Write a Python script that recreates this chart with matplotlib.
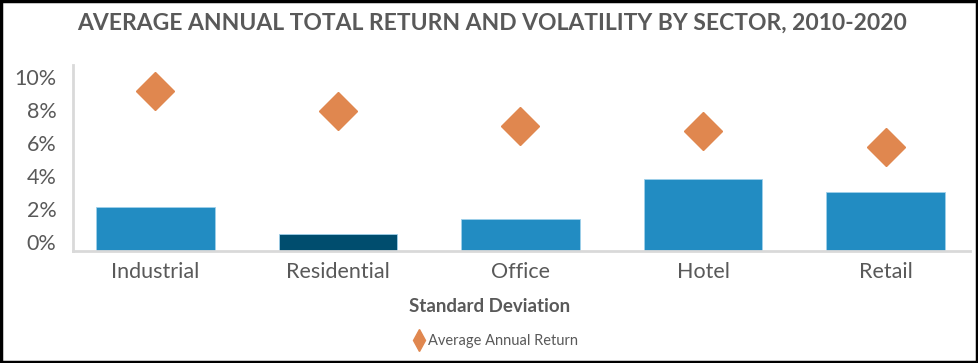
import matplotlib.pyplot as plt
from matplotlib.lines import Line2D
from matplotlib.patches import Rectangle
from matplotlib.ticker import FuncFormatter

plt.rcParams['font.family'] = ['Lato', 'DejaVu Sans']

sectors = ["Industrial", "Residential", "Office", "Hotel", "Retail"]
std_dev = [2.1, 0.5, 1.4, 3.8, 3.0]
avg_return = [9.1, 7.9, 7.0, 6.7, 5.75]
yticks = [0, 2, 4, 6, 8, 10]

bar_blue = "#228cc2"
bar_dark = "#004d6e"
diamond = "#e0874f"
grey = "#595959"

fig = plt.figure(figsize=(9.79, 3.63), dpi=100)
ax = fig.add_axes([73 / 979, 1 - 251 / 363, 897 / 979, 186 / 363])

ymin = -0.55
x = range(len(sectors))
colors = [bar_dark if s == "Residential" else bar_blue for s in sectors]
# bars sit on the axis floor, as in the original chart
ax.bar(x, [v - ymin for v in std_dev], bottom=ymin, width=0.65, color=colors,
       edgecolor="#9fd0ea", linewidth=0.6, zorder=2)
ax.plot(x, avg_return, linestyle="none", marker="D", ms=19.5, color=diamond, zorder=3)

ax.set_xlim(-0.452, 4.463)
ax.set_ylim(ymin, 10.7)
ax.set_yticks(yticks)
ax.yaxis.set_major_formatter(FuncFormatter(lambda v, p: f"{v:.0f}%"))
ax.set_xticks(list(x))
ax.set_xticklabels(sectors)
ax.tick_params(axis="both", length=0, colors=grey, labelsize=15.5)
ax.tick_params(axis="y", pad=12)
ax.tick_params(axis="x", pad=8)

for side in ["top", "right"]:
    ax.spines[side].set_visible(False)
for side in ["left", "bottom"]:
    ax.spines[side].set_color("#d9d9d9")
    ax.spines[side].set_linewidth(2)

fig.text(492 / 979, 1 - 23 / 363, "AVERAGE ANNUAL TOTAL RETURN AND VOLATILITY BY SECTOR, 2010-2020",
         ha="center", va="center", fontsize=16.5, fontweight="bold", color=grey)
fig.text(490 / 979, 1 - 306 / 363, "Standard Deviation", ha="center", va="center",
         fontsize=13.5, fontweight="bold", color=grey)

handle = Line2D([], [], linestyle="none", marker="d", ms=11, color=diamond)
fig.legend([handle], ["Average Annual Return"], loc="center", bbox_to_anchor=(495 / 979, 1 - 341 / 363),
           frameon=False, fontsize=10.5, labelcolor=grey, handletextpad=0.1, handlelength=1.0)

fig.patches.append(Rectangle((0.001, 0.002), 0.997, 0.995, transform=fig.transFigure,
                             fill=False, edgecolor="black", linewidth=2.5))

fig.savefig("out.png", dpi=100)
